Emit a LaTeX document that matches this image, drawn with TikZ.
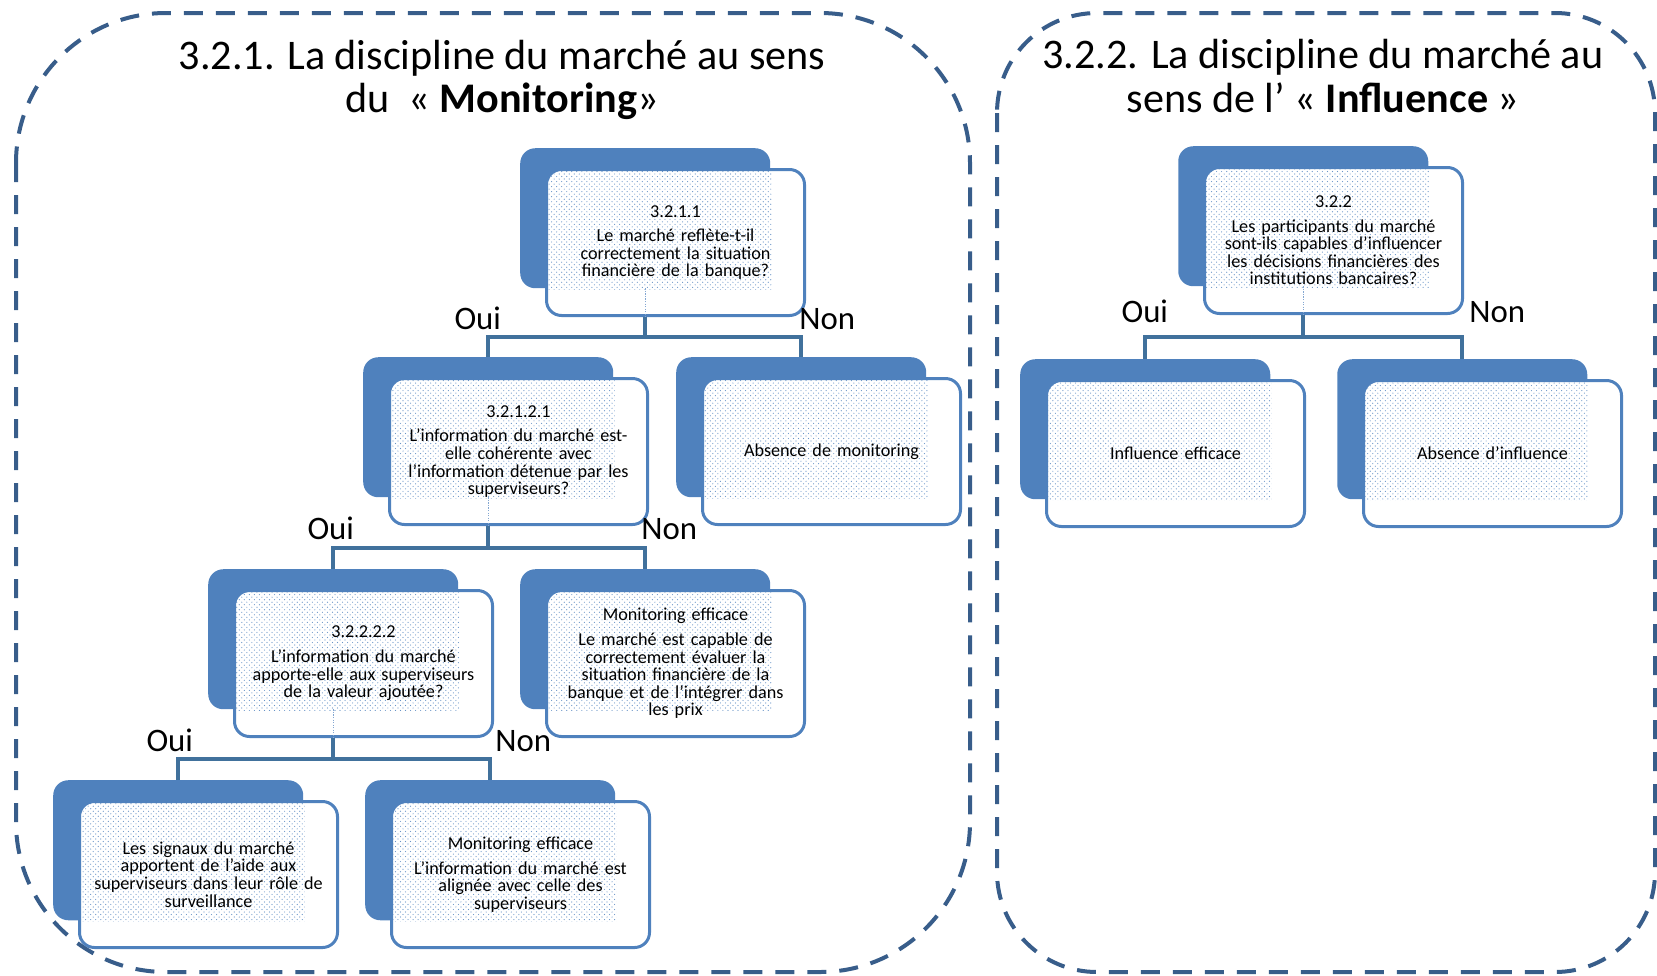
\documentclass[tikz,border=0pt]{standalone}
\usepackage{fontspec}
\setmainfont{Carlito}
\usetikzlibrary{calc,patterns}
\definecolor{boxblue}{HTML}{4F81BD}
\definecolor{linkblue}{HTML}{41719C}
\definecolor{dashblue}{HTML}{385D8A}
\pgfdeclarepatternformonly{qdots}{\pgfqpoint{-1pt}{-1pt}}{\pgfqpoint{5pt}{5pt}}{\pgfqpoint{4.3pt}{4.3pt}}{%
  \pgfpathcircle{\pgfqpoint{0pt}{0pt}}{0.5pt}
  \pgfpathcircle{\pgfqpoint{2.15pt}{2.15pt}}{0.5pt}
  \pgfusepath{fill}}
\tikzset{qback/.style = {fill=boxblue, rounded corners=4.5mm, minimum width=75mm, minimum height=42mm, inner sep=0, anchor=north west}}
\tikzset{qfront/.style = {fill=white, draw=boxblue, line width=0.9mm, rounded corners=4.5mm,
    minimum width=77.4mm, minimum height=43.8mm, text width=70mm, align=center, anchor=north west,
    font=\fontsize{15.5}{15}\selectfont,
    path picture={\fill[sharp corners, pattern=qdots, pattern color=boxblue!85]
      (path picture bounding box.north west) rectangle ([shift={(-9.9mm,7.8mm)}]path picture bounding box.south east);}}}
\tikzset{link/.style = {draw=linkblue, line width=1.2mm}}
\tikzset{stub/.style = {draw=boxblue!70, densely dotted, line width=0.4mm}}
\tikzset{lab/.style = {font=\fontsize{28}{30}\selectfont, inner sep=0}}
\tikzset{ttl/.style = {font=\fontsize{36}{37.4}\selectfont, align=center}}
\tikzset{panel/.style = {draw=dashblue, line width=1.2mm, dash pattern=on 5.7mm off 3.9mm}}

\begin{document}
\begin{tikzpicture}[x=0.3mm, y=-0.3mm]
    \useasboundingbox (0,0) rectangle (1657,975);
    \draw[panel, rounded corners=45mm] (16,13) rectangle (970,972);
    \draw[panel, rounded corners=30mm] (997,13) rectangle (1655,972);
    \node[ttl] (t1) at (502,80) {3.2.1. La discipline du marché au sens\\du~~« \textbf{Monitoring}»};
    \node[ttl] (t2) at (1323,76) {3.2.2. La discipline du marché au\\sens de l’ « \textbf{Influence} »};

    % monitoring
    \node[qback] (q1-b) at (520,148) {};
    \node[qfront] (q1) at ([shift={(25,20)}]q1-b.north west) {3.2.1.1\\[6pt]Le marché reflète-t-il\\correctement la situation\\financière de la banque?};
    \node[qback] (q2-b) at (363,357) {};
    \node[qfront] (q2) at ([shift={(25,20)}]q2-b.north west) {3.2.1.2.1\\[6pt]L’information du marché est-\\elle cohérente avec\\l’information détenue par les\\superviseurs?};
    \node[qback] (absmon-b) at (676,357) {};
    \node[qfront] (absmon) at ([shift={(25,20)}]absmon-b.north west) {Absence de monitoring};
    \node[qback] (q3-b) at (208,569) {};
    \node[qfront] (q3) at ([shift={(25,20)}]q3-b.north west) {3.2.2.2.2\\[6pt]L’information du marché\\apporte-elle aux superviseurs\\de la valeur ajoutée?};
    \node[qback] (monef1-b) at (520,569) {};
    \node[qfront] (monef1) at ([shift={(25,20)}]monef1-b.north west) {Monitoring efficace\\[6pt]Le marché est capable de\\correctement évaluer la\\situation financière de la\\banque et de l’intégrer dans\\les prix};
    \node[qback] (signaux-b) at (53,780) {};
    \node[qfront] (signaux) at ([shift={(25,20)}]signaux-b.north west) {Les signaux du marché\\apportent de l’aide aux\\superviseurs dans leur rôle de\\surveillance};
    \node[qback] (monef2-b) at (365,780) {};
    \node[qfront] (monef2) at ([shift={(25,20)}]monef2-b.north west) {Monitoring efficace\\[6pt]L’information du marché est\\alignée avec celle des\\superviseurs};

    % influence
    \node[qback] (q4-b) at (1178,146) {};
    \node[qfront] (q4) at ([shift={(25,20)}]q4-b.north west) {3.2.2\\[6pt]Les participants du marché\\sont-ils capables d’influencer\\les décisions financières des\\institutions bancaires?};
    \node[qback] (infef-b) at (1020,359) {};
    \node[qfront] (infef) at ([shift={(25,20)}]infef-b.north west) {Influence efficace};
    \node[qback] (absinf-b) at (1337,359) {};
    \node[qfront] (absinf) at ([shift={(25,20)}]absinf-b.north west) {Absence d’influence};

    \coordinate (j1) at ($(q1.south)!.5!(q2-b.north)$);
    \coordinate (j2) at ($(q2.south)!.5!(q3-b.north)$);
    \coordinate (j3) at ($(q3.south)!.5!(signaux-b.north)$);
    \coordinate (j4) at ($(q4.south)!.5!(infef-b.north)$);

    \draw[stub] (q1-b.south) -- (q1-b.south |- q1.south);
    \draw[link] (q1-b.south |- q1.south) -- (q1-b.south |- j1) -| (q2-b.north);
    \draw[link] (q1-b.south |- j1) -| (absmon-b.north);
    \node[lab, anchor=base east] (oui1) at ([shift={(13,-8)}]q2-b.north |- j1) {Oui};
    \node[lab, anchor=base west] (non1) at ([shift={(-2,-8)}]absmon-b.north |- j1) {Non};

    \draw[stub] (q2-b.south) -- (q2-b.south |- q2.south);
    \draw[link] (q2-b.south |- q2.south) -- (q2-b.south |- j2) -| (q3-b.north);
    \draw[link] (q2-b.south |- j2) -| (monef1-b.north);
    \node[lab, anchor=base east] (oui2) at ([shift={(21,-8)}]q3-b.north |- j2) {Oui};
    \node[lab, anchor=base west] (non2) at ([shift={(-4,-8)}]monef1-b.north |- j2) {Non};

    \draw[stub] (q3-b.south) -- (q3-b.south |- q3.south);
    \draw[link] (q3-b.south |- q3.south) -- (q3-b.south |- j3) -| (signaux-b.north);
    \draw[link] (q3-b.south |- j3) -| (monef2-b.north);
    \node[lab, anchor=base east] (oui3) at ([shift={(15,-8)}]signaux-b.north |- j3) {Oui};
    \node[lab, anchor=base west] (non3) at ([shift={(5,-8)}]monef2-b.north |- j3) {Non};

    \draw[stub] (q4-b.south) -- (q4-b.south |- q4.south);
    \draw[link] (q4-b.south |- q4.south) -- (q4-b.south |- j4) -| (infef-b.north);
    \draw[link] (q4-b.south |- j4) -| (absinf-b.north);
    \node[lab, anchor=base east] (oui4) at ([shift={(23,-15)}]infef-b.north |- j4) {Oui};
    \node[lab, anchor=base west] (non4) at ([shift={(7,-15)}]absinf-b.north |- j4) {Non};
\end{tikzpicture}
\end{document}
